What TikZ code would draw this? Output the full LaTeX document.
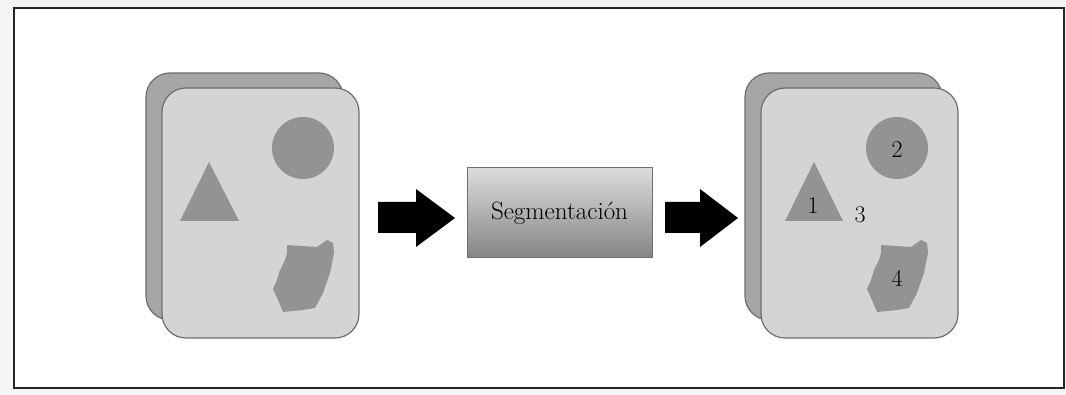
\documentclass[tikz,border=0pt]{standalone}
\usepackage{fontspec}
\usetikzlibrary{shapes.arrows}
\definecolor{cardfront}{HTML}{D4D4D4}
\definecolor{cardback}{HTML}{A6A6A6}
\definecolor{cardline}{HTML}{6E6E6E}
\definecolor{shapefill}{HTML}{939393}
\definecolor{outerbg}{HTML}{F4F4F4}
\begin{document}
\begin{tikzpicture}[x=1pt,y=-1pt,
  cardstyle/.style={draw=cardline,line width=1.2pt,rounded corners=24pt},
  blobstyle/.style={fill=shapefill,draw=none},
  numlabel/.style={font=\fontsize{24}{26}\selectfont,inner sep=0pt},
  bigarrow/.style={fill=black,draw=none}]
\fill[outerbg] (0,0) rectangle (1066,395);
\useasboundingbox (0,0) rectangle (1066,395);
\node[draw=black!85,line width=1.5pt,fill=white,minimum width=1050pt,minimum height=380pt,inner sep=0pt] (frame) at (539,198) {};

% left card
\draw[cardstyle,fill=cardback] (146,73) rectangle (343,320);
\draw[cardstyle,fill=cardfront] (162,88) rectangle (359,338);
\fill[shapefill] (303,148) circle (31);
\fill[shapefill] (209,162) -- (239,221) -- (180,221) -- cycle;
\fill[blobstyle] (287,245) -- (317,247) -- (327,240) -- (333,243) -- (334,253) -- (330,273) -- (323,293) -- (315,308) -- (303,310) -- (283,312) -- (278,300) -- (273,289) -- (277,280) -- (280,270) -- (285,260) -- (287,253) -- cycle;

% arrows
\fill[bigarrow] (378,202) -- (416,202) -- (416,189) -- (455,218) -- (416,247) -- (416,233) -- (378,233) -- cycle;
\fill[bigarrow] (665,202) -- (700,202) -- (700,189) -- (738,218) -- (700,247) -- (700,233) -- (665,233) -- cycle;

% box
\node[draw=cardline,line width=1pt,top color=black!14,bottom color=black!48,minimum width=185pt,minimum height=90pt,inner sep=0pt,font=\fontsize{25}{27}\selectfont] (seg) at (559.5,213) {Segmentación};

% right card
\draw[cardstyle,fill=cardback] (745,73) rectangle (942,320);
\draw[cardstyle,fill=cardfront] (761,88) rectangle (958,338);
\fill[shapefill] (897,148) circle (31);
\fill[shapefill] (814,162) -- (843,221) -- (785,221) -- cycle;
\begin{scope}[xshift=594pt]
\fill[blobstyle] (287,245) -- (317,247) -- (327,240) -- (333,243) -- (334,253) -- (330,273) -- (323,293) -- (315,308) -- (303,310) -- (283,312) -- (278,300) -- (273,289) -- (277,280) -- (280,270) -- (285,260) -- (287,253) -- cycle;
\end{scope}
\node[numlabel] (n1) at (813,206) {1};
\node[numlabel] (n2) at (897,150) {2};
\node[numlabel] (n3) at (860,215) {3};
\node[numlabel] (n4) at (897,278) {4};
\end{tikzpicture}
\end{document}
